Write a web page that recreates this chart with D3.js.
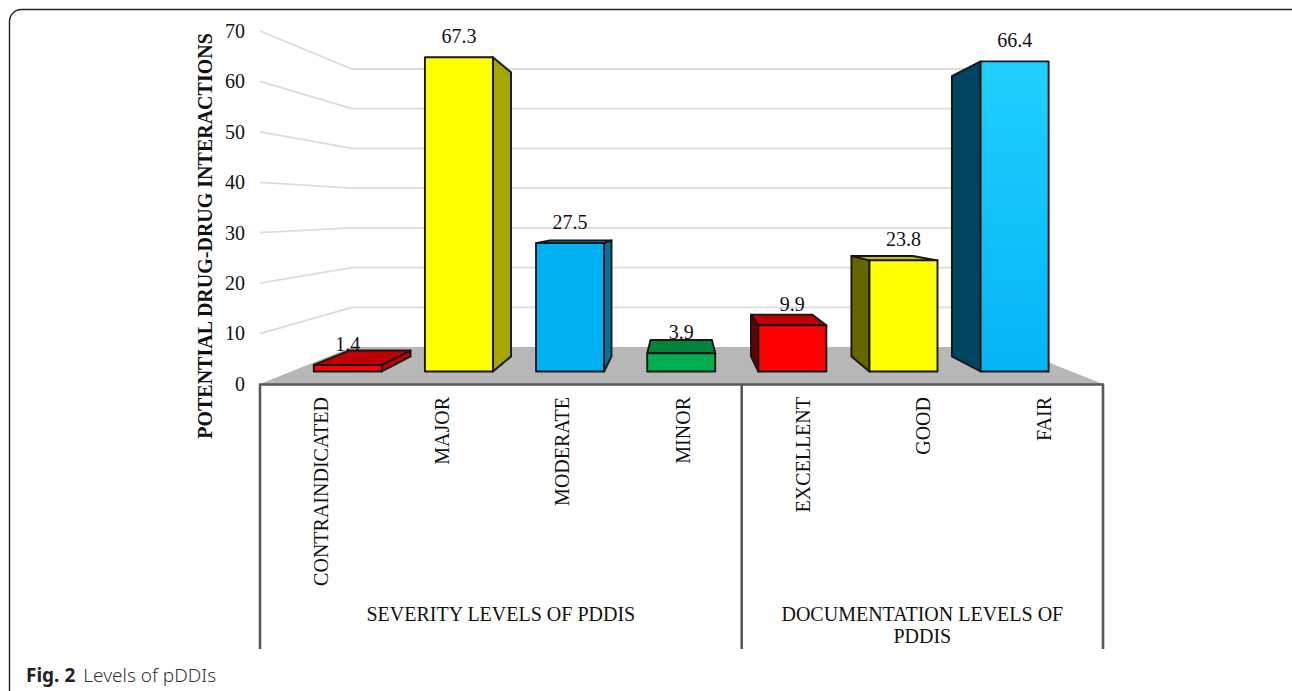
<!DOCTYPE html>
<html>
<head>
<meta charset="utf-8">
<script src="https://cdn.jsdelivr.net/npm/d3@7/dist/d3.min.js"></script>
<style>
  html, body { margin: 0; padding: 0; background: #fff; }
  svg { display: block; }
  text { font-family: "Liberation Serif", serif; fill: #111; }
</style>
</head>
<body>
<svg id="chart" width="1292" height="691"></svg>
<script>
// Percentages of potential drug-drug interactions by level
const categories = ["CONTRAINDICATED", "MAJOR", "MODERATE", "MINOR", "EXCELLENT", "GOOD", "FAIR"];
const values = [1.4, 67.3, 27.5, 3.9, 9.9, 23.8, 66.4];
const barColors = ["#ff0000", "#ffff00", "#00b0f0", "#00b050", "#ff0000", "#ffff00", "#00b0f0"];
const yTicks = [0, 10, 20, 30, 40, 50, 60, 70];
const groups = [
  { lines: ["SEVERITY LEVELS OF PDDIS"], members: categories.slice(0, 4) },
  { lines: ["DOCUMENTATION LEVELS OF", "PDDIS"], members: categories.slice(4) }
];

const svg = d3.select("#chart");

// Perspective set-up: walls, floor and bars all recede to one vanishing point
const vp = { x: 681.5, y: 214.5 };
const barDepth = 0.096;
const wall = { frontL: 260, backL: 352, backR: 1010, frontR: 1103 };

const yWallFront = d3.scaleLinear().domain([0, 70]).range([384, 31]);
const yWallBack = d3.scaleLinear().domain([0, 70]).range([347, 69]);
const yBar = d3.scaleLinear().domain([0, 70]).range([371.5, 44.6]);
const xBar = d3.scaleBand().domain(categories).range([292.2, 1070.2]).paddingInner(0.388).paddingOuter(0.194);
const xLabel = d3.scaleBand().domain(categories).range([wall.frontL, wall.frontR]);

const recede = (x, y) => [x + barDepth * (vp.x - x), y + barDepth * (vp.y - y)];
const line = d3.line();
const closed = pts => line(pts) + "Z";

// Card outline and caption
svg.append("rect")
  .attr("x", 9.5).attr("y", 9.5).attr("width", 1300).attr("height", 720).attr("rx", 12)
  .attr("fill", "none").attr("stroke", "#222").attr("stroke-width", 1.4);

const caption = svg.append("text").attr("x", 26).attr("y", 682)
  .style("font-family", "'Noto Sans', sans-serif").style("font-size", "19px").style("fill", "#333");
caption.append("tspan").style("font-weight", 700).style("fill", "#222").text("Fig. 2");
caption.append("tspan").attr("dx", 8).style("font-weight", 300).text("Levels of pDDIs");

// Side-wall and back-wall gridlines
svg.append("g").selectAll("path").data(yTicks.filter(d => d > 0)).join("path")
  .attr("d", d => line([
    [wall.frontL, yWallFront(d)],
    [wall.backL, yWallBack(d)],
    [wall.backR, yWallBack(d)]
  ]))
  .attr("fill", "none").attr("stroke", "#dcdcdc").attr("stroke-width", 1.8);

// Floor
svg.append("path")
  .attr("d", closed([
    [wall.frontL, yWallFront(0)],
    [wall.backL, yWallBack(0)],
    [wall.backR, yWallBack(0)],
    [wall.frontR, yWallFront(0)]
  ]))
  .attr("fill", "#b7b7b7");

// Value axis
const yAxis = svg.append("g").attr("transform", "translate(250,0)")
  .call(d3.axisLeft(yWallFront).tickValues(yTicks).tickSize(0).tickPadding(5));
yAxis.select(".domain").remove();
yAxis.selectAll("text").style("font-family", "'Liberation Serif', serif").style("font-size", "20px").style("fill", "#111");

svg.append("text")
  .attr("transform", "translate(212,236) rotate(-90)")
  .attr("text-anchor", "middle")
  .style("font-size", "20px").style("font-weight", 700)
  .text("POTENTIAL DRUG-DRUG INTERACTIONS");

// Bars, each a front face plus whichever top and side faces the viewpoint reveals
const bars = svg.append("g").selectAll("g").data(categories).join("g");
bars.each(function (cat, i) {
  const g = d3.select(this);
  const x0 = xBar(cat), x1 = x0 + xBar.bandwidth();
  const yT = yBar(values[i]), yB = yBar(0);
  const base = d3.color(barColors[i]);
  const shade = k => d3.rgb(base.r * k, base.g * k, base.b * k).formatHex();
  const face = (pts, fill) => g.append("path").attr("d", closed(pts))
    .attr("fill", fill).attr("stroke", "#161616").attr("stroke-width", 1.9)
    .attr("stroke-linejoin", "round");

  if (x1 < vp.x) {
    face([[x1, yT], recede(x1, yT), recede(x1, yB), [x1, yB]], shade(i === 0 ? 0.75 : 0.65));
  } else if (x0 > vp.x) {
    face([[x0, yT], recede(x0, yT), recede(x0, yB), [x0, yB]], shade(0.4));
  }
  if (recede(x0, yT)[1] < yT) {
    face([[x0, yT], recede(x0, yT), recede(x1, yT), [x1, yT]], shade(0.75));
  }

  let fill = barColors[i];
  if (cat === "FAIR") {
    const grad = svg.append("defs").append("linearGradient")
      .attr("id", "fairFill").attr("x1", 0).attr("y1", 0).attr("x2", 0).attr("y2", 1);
    grad.append("stop").attr("offset", 0).attr("stop-color", "#1fd0ff");
    grad.append("stop").attr("offset", 1).attr("stop-color", "#05b4f5");
    fill = "url(#fairFill)";
  }
  face([[x0, yT], [x1, yT], [x1, yB], [x0, yB]], fill);

  g.append("text")
    .attr("x", (x0 + x1) / 2).attr("y", yT - 14)
    .attr("text-anchor", "middle")
    .style("font-size", "20px")
    .text(values[i]);
});

// Multi-level category axis beneath the floor
const axisColor = "#595959";
const axisLines = svg.append("g").attr("stroke", axisColor).attr("stroke-width", 2.6).attr("fill", "none");
axisLines.append("path").attr("d", line([[wall.frontL - 1, 384.5], [wall.frontR + 1, 384.5]]));
const splits = [xLabel(categories[0]), xLabel(groups[1].members[0]), wall.frontR];
axisLines.selectAll("path.tick").data(splits).join("path").attr("class", "tick")
  .attr("d", x => line([[x, 384.5], [x, 649]]));

svg.append("g").selectAll("text").data(categories).join("text")
  .attr("transform", d => `translate(${xLabel(d) + xLabel.bandwidth() / 2 + 8},397) rotate(-90)`)
  .attr("text-anchor", "end")
  .style("font-size", "20px")
  .text(d => d);

groups.forEach(group => {
  const first = xLabel(group.members[0]);
  const last = xLabel(group.members[group.members.length - 1]) + xLabel.bandwidth();
  const t = svg.append("text").attr("text-anchor", "middle").style("font-size", "20px");
  group.lines.forEach((txt, k) => {
    t.append("tspan").attr("x", (first + last) / 2).attr("y", 621 + k * 22).text(txt);
  });
});
</script>
</body>
</html>
